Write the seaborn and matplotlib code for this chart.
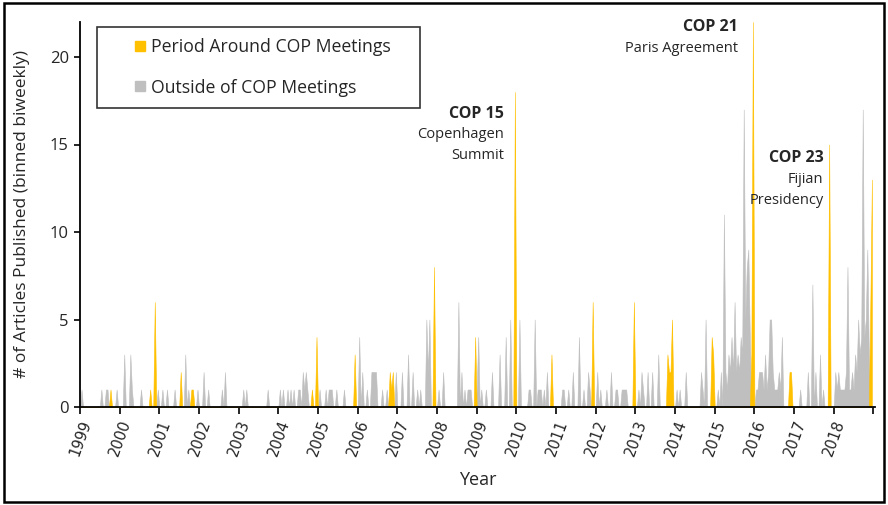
import matplotlib

matplotlib.use("Agg")
import matplotlib.pyplot as plt
import numpy as np
import pandas as pd
import seaborn as sns
from matplotlib.legend_handler import HandlerLine2D
from matplotlib.lines import Line2D
from matplotlib.patches import Rectangle

sns.set_theme(style="white")
plt.rcParams["font.family"] = ["Open Sans", "DejaVu Sans"]

# biweekly bins counted from the first fortnight of 1999
START_YEAR = 1999
BINS_PER_YEAR = 26
N_BINS = 520

# articles published in the fortnights around each COP meeting
cop_bin = [20, 46, 49, 66, 73, 74, 152, 155, 180, 203, 204, 205, 232, 259, 285,
           309, 336, 363, 385, 386, 387, 388, 414, 415, 440, 441, 465, 466, 491,
           518, 519]
cop_count = [1, 1, 6, 2, 1, 1, 1, 4, 3, 2, 1, 2, 8, 4, 18,
             3, 6, 6, 3, 2, 2, 5, 4, 3, 3, 22, 2, 2, 15,
             6, 13]

# articles published outside of the COP periods
other_bin = [1, 14, 17, 18, 24, 29, 33, 34, 40, 51, 54, 57, 62, 69, 71, 77, 81, 84, 93, 95,
             107, 109, 123, 131, 133, 136, 138, 140, 143, 144, 146, 147, 148, 149, 157,
             161, 163, 164, 165, 168, 173, 183, 185, 188, 191, 192, 193, 194, 198, 201,
             207, 211, 215, 218, 221, 223, 227, 228, 229, 235, 238, 248, 250, 252, 254,
             255, 256, 260, 261, 263, 266, 270, 275, 279, 282,
             288, 294, 295, 298, 300, 301, 302, 304, 306, 316, 317, 320, 323, 327, 330,
             333, 334, 339, 341, 345, 348, 351, 352, 355, 356, 357, 358, 366, 368, 369,
             372, 375, 379, 391,
             393, 397, 407, 408, 410, 418, 420, 422, 423, 424, 425, 426, 427, 428, 429,
             430, 431, 432, 433, 434, 435, 436, 437, 438, 439, 443, 444, 445, 446, 447,
             448, 449, 450, 451, 452, 453, 454, 455, 456, 457, 458, 459, 460, 472, 477,
             480, 482, 485, 487, 495, 496, 497, 498, 499, 500, 501, 502, 503, 504, 505,
             506, 507, 508, 509, 510, 511, 512, 513, 514, 515, 516, 517]
other_count = [1, 1, 1, 1, 1, 3, 3, 1, 1, 1, 1, 1, 1, 3, 1, 1, 2, 1, 1, 2,
               1, 1, 1, 1, 1, 1, 1, 1, 1, 1, 2, 1, 2, 1, 1,
               1, 1, 1, 1, 1, 1, 4, 2, 1, 2, 2, 2, 2, 1, 1,
               2, 2, 3, 2, 1, 1, 5, 2, 5, 1, 2, 6, 2, 1, 1,
               1, 1, 1, 4, 1, 1, 2, 3, 4, 5,
               5, 1, 1, 5, 1, 1, 1, 1, 2, 1, 1, 1, 2, 4, 1,
               2, 1, 2, 1, 1, 2, 1, 1, 1, 1, 1, 1, 1, 2, 1,
               2, 2, 3, 1,
               1, 2, 2, 1, 5, 1, 2, 11, 2, 1, 3, 2, 4, 2, 6,
               2, 3, 2, 4, 3, 17, 5, 8, 9, 4, 1, 1, 2, 2, 2,
               1, 3, 1, 2, 5, 5, 2, 1, 1, 1, 2, 1, 4, 1, 2,
               7, 2, 3, 1, 2, 1, 2, 1, 1, 1, 1, 2, 8, 1, 1,
               2, 1, 3, 2, 5, 3, 4, 17, 4, 5, 9, 3]

year_labels = [str(y) for y in range(1999, 2019)]
y_ticks = [0, 5, 10, 15, 20]

COP_COLOR = "#FFC000"
OTHER_COLOR = "#BFBFBF"

cop_df = pd.DataFrame({"year": START_YEAR + np.array(cop_bin) / BINS_PER_YEAR, "count": cop_count})
other_df = pd.DataFrame({"year": START_YEAR + np.array(other_bin) / BINS_PER_YEAR, "count": other_count})

fig, ax = plt.subplots(figsize=(8.88, 5.05), dpi=100)
fig.subplots_adjust(left=80 / 888, right=875 / 888, bottom=1 - 407 / 505, top=1 - 22 / 505)

half = 0.5 / BINS_PER_YEAR
bin_range = (START_YEAR - half, START_YEAR + N_BINS / BINS_PER_YEAR - half)
for df, color in [(other_df, OTHER_COLOR), (cop_df, COP_COLOR)]:
    sns.histplot(data=df, x="year", weights="count", bins=N_BINS, binrange=bin_range,
                 element="poly", fill=True, color=color, edgecolor=color, alpha=1,
                 linewidth=0.4, ax=ax)

ax.set_xlim(1999, 2019.04)
ax.set_ylim(0, 22)
ax.set_xticks(list(range(1999, 2020)))
ax.set_xticklabels(year_labels + [""])
ax.set_yticks(y_ticks)
for lab in ax.get_xticklabels():
    lab.set_rotation(70)
    lab.set_ha("right")
    lab.set_va("top")
    lab.set_rotation_mode("anchor")
    lab.set_fontfamily("DejaVu Sans")
    lab.set_fontsize(10.5)
for lab in ax.get_yticklabels():
    lab.set_fontsize(12)

ax.tick_params(axis="x", bottom=True, direction="out", length=5, width=1.2, color="black", pad=3)
ax.tick_params(axis="y", left=True, direction="out", length=4, width=1.2, color="black", pad=4)
sns.despine(ax=ax)
for side in ["left", "bottom"]:
    ax.spines[side].set_color("black")
    ax.spines[side].set_linewidth(1.3)

ax.set_xlabel("Year", fontsize=13, labelpad=9)
ax.set_ylabel("# of Articles Published (binned biweekly)", fontsize=12.5, labelpad=14)

# COP annotations
notes = [
    (2009.68, 16.75, "COP 15", ["Copenhagen", "Summit"]),
    (2015.58, 21.7, "COP 21", ["Paris Agreement"]),
    (2017.74, 14.2, "COP 23", ["Fijian", "Presidency"]),
]
for x, y, head, lines in notes:
    ax.text(x, y, head, ha="right", va="center", fontsize=11.5, fontweight="bold")
    for k, line in enumerate(lines):
        ax.text(x, y - 1.2 * (k + 1), line, ha="right", va="center", fontsize=10.5)

handles = [
    Line2D([], [], marker="s", linestyle="none", markersize=7.5, color=COP_COLOR),
    Line2D([], [], marker="s", linestyle="none", markersize=7.5, color=OTHER_COLOR),
]
leg = ax.legend(handles, ["Period Around COP Meetings", "Outside of COP Meetings"],
                loc="upper left", bbox_to_anchor=(0.0214, 0.0, 0.406, 0.987), mode="expand",
                borderaxespad=0, fontsize=12.7, frameon=True, fancybox=False,
                edgecolor="black", borderpad=0.65, labelspacing=1.25, handlelength=2.12,
                handletextpad=0.3,
                handler_map={Line2D: HandlerLine2D(numpoints=1, xpad=1.48)})
leg.get_frame().set_linewidth(1.2)

fig.add_artist(Rectangle((0.004, 0.005), 0.992, 0.99, transform=fig.transFigure,
                         fill=False, edgecolor="black", linewidth=1.8))

fig.savefig("out.png", dpi=100)
